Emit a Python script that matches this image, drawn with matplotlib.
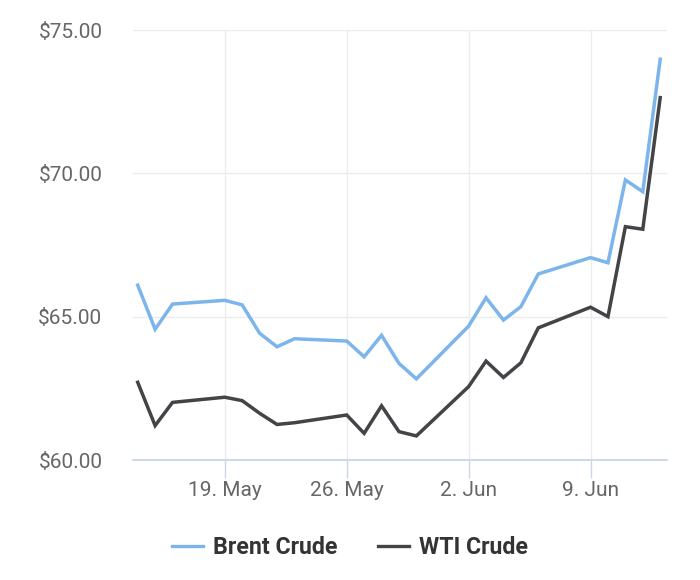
import datetime as dt
import matplotlib
matplotlib.use("Agg")
import matplotlib.pyplot as plt
import matplotlib.dates as mdates
from matplotlib.lines import Line2D

plt.rcParams['font.family'] = ['Roboto', 'DejaVu Sans']

# trading days, mid-May to mid-June 2025
dates = ["2025-05-14", "2025-05-15", "2025-05-16", "2025-05-19", "2025-05-20",
         "2025-05-21", "2025-05-22", "2025-05-23", "2025-05-26", "2025-05-27",
         "2025-05-28", "2025-05-29", "2025-05-30", "2025-06-02", "2025-06-03",
         "2025-06-04", "2025-06-05", "2025-06-06", "2025-06-09", "2025-06-10",
         "2025-06-11", "2025-06-12", "2025-06-13"]
brent = [66.10, 64.56, 65.44, 65.57, 65.41, 64.42, 63.95, 64.23, 64.15, 63.60,
         64.35, 63.37, 62.83, 64.67, 65.66, 64.88, 65.35, 66.49, 67.06, 66.88,
         69.77, 69.36, 73.98]
wti = [62.71, 61.20, 62.01, 62.19, 62.07, 61.63, 61.24, 61.30, 61.57, 60.93,
       61.89, 60.99, 60.84, 62.56, 63.45, 62.88, 63.39, 64.61, 65.33, 65.00,
       68.14, 68.05, 72.64]
series_names = ["Brent Crude", "WTI Crude"]
series_colors = ["#7cb5ec", "#434348"]
tick_dates = ["2025-05-19", "2025-05-26", "2025-06-02", "2025-06-09"]
tick_labels = ["19. May", "26. May", "2. Jun", "9. Jun"]
y_ticks = [60, 65, 70, 75]

x = [dt.datetime.strptime(d, "%Y-%m-%d") for d in dates]
xt = [dt.datetime.strptime(d, "%Y-%m-%d") for d in tick_dates]

fig = plt.figure(figsize=(7, 5.8), dpi=100)
ax = fig.add_axes([133/700, 1-460/580, 534/700, 430/580])

for vals, name, col in zip([brent, wti], series_names, series_colors):
    ax.plot(x, vals, color=col, linewidth=2.5, label=name,
            solid_joinstyle='miter', zorder=3)

ax.set_ylim(60, 75)
x0 = mdates.date2num(x[0]) - 0.27
x1 = mdates.date2num(x[-1]) + 0.39
ax.set_xlim(x0, x1)

ax.set_yticks(y_ticks)
ax.set_yticklabels(['${:.2f}'.format(v) for v in y_ticks])
ax.set_xticks(xt)
ax.set_xticklabels(tick_labels)

ax.grid(True, color='#ececec', linewidth=1, zorder=0)
for s in ['top', 'right', 'left']:
    ax.spines[s].set_visible(False)
ax.spines['bottom'].set_color('#ccd6eb')
ax.spines['bottom'].set_linewidth(1.3)
ax.spines['bottom'].set_zorder(4)

ax.tick_params(axis='y', length=0, pad=22, labelsize=15, labelcolor='#666666')
ax.tick_params(axis='x', length=13, width=1, color='#ccd6eb', pad=2,
               labelsize=15, labelcolor='#666666')

handles = [Line2D([0], [0], color=c, linewidth=2.4) for c in series_colors]
leg = fig.legend(handles, series_names, loc='center', bbox_to_anchor=(350/700, 1-548/580),
                 ncol=2, frameon=False, handlelength=1.34, handletextpad=0.46,
                 columnspacing=1.72, prop={'weight': 'bold', 'size': 16.7})
for t in leg.get_texts():
    t.set_color('#333333')

fig.savefig('out.png', dpi=100)
